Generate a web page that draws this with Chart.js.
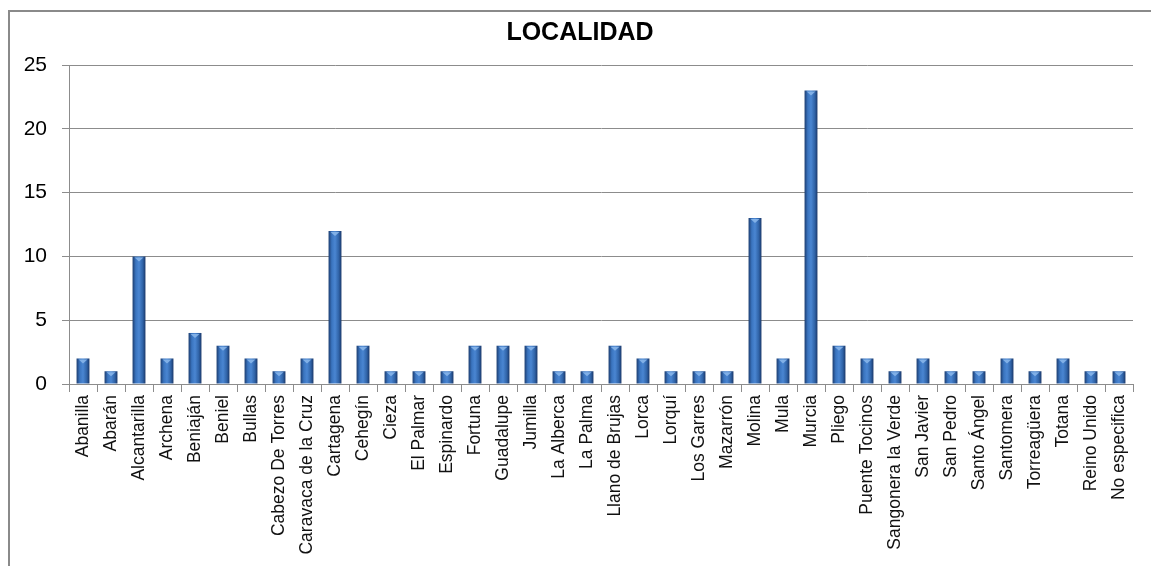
<!DOCTYPE html>
<html>
<head>
<meta charset="utf-8">
<script src="https://cdn.jsdelivr.net/npm/chart.js@4/dist/chart.umd.min.js"></script>
<style>
    html, body { margin: 0; padding: 0; background: #fff; overflow: hidden; }
    #wrap { position: absolute; left: 0; top: 0; width: 1160px; height: 566px; }
    #frame { position: absolute; left: 8px; top: 10px; width: 1200px; height: 600px; border: 2px solid #8a8a8a; pointer-events: none; }
</style>
</head>
<body>
<div id="wrap"><canvas id="chart" width="1160" height="566"></canvas></div>
<div id="frame"></div>
<script>
const localidades = ['Abanilla', 'Abarán', 'Alcantarilla', 'Archena', 'Beniaján', 'Beniel', 'Bullas',
    'Cabezo De Torres', 'Caravaca de la Cruz', 'Cartagena', 'Cehegín', 'Cieza', 'El Palmar', 'Espinardo',
    'Fortuna', 'Guadalupe', 'Jumilla', 'La Alberca', 'La Palma', 'Llano de Brujas', 'Lorca', 'Lorquí',
    'Los Garres', 'Mazarrón', 'Molina', 'Mula', 'Murcia', 'Pliego', 'Puente Tocinos', 'Sangonera la Verde',
    'San Javier', 'San Pedro', 'Santo Ángel', 'Santomera', 'Torreagüera', 'Totana', 'Reino Unido', 'No especifica'];
const cantidades = [2, 1, 10, 2, 4, 3, 2, 1, 2, 12, 3, 1, 1, 1, 3, 3, 3, 1, 1, 3, 2, 1, 1, 1, 13, 2, 23, 3, 2, 1, 2, 1, 1, 2, 1, 2, 1, 1];
const yTicks = [0, 5, 10, 15, 20, 25];

const BAR_PCT = 0.46;
const gridGray = '#8c8c8c';

// horizontal gradient per bar, built from the x scale
function barFill(context) {
    const chart = context.chart;
    const xs = chart.scales.x;
    if (!chart.chartArea || !xs) return '#2f64a8';
    const cx = xs.getPixelForValue(context.dataIndex);
    const half = (xs.width / localidades.length) * BAR_PCT / 2;
    const g = chart.ctx.createLinearGradient(cx - half, 0, cx + half, 0);
    g.addColorStop(0, '#1c3d70');
    g.addColorStop(0.25, '#3a74bf');
    g.addColorStop(0.5, '#4a86d2');
    g.addColorStop(0.8, '#2f62a6');
    g.addColorStop(1, '#1a3768');
    return g;
}

// small lighter bevel at the top of every bar
const barCaps = {
    id: 'barCaps',
    afterDatasetsDraw(chart) {
        const ctx = chart.ctx;
        chart.getDatasetMeta(0).data.forEach(bar => {
            const half = bar.width / 2;
            ctx.save();
            ctx.fillStyle = 'rgba(140,185,235,0.85)';
            ctx.beginPath();
            ctx.moveTo(bar.x - half + 2, bar.y + 1);
            ctx.lineTo(bar.x + half - 2, bar.y + 1);
            ctx.lineTo(bar.x, bar.y + 5);
            ctx.closePath();
            ctx.fill();
            ctx.restore();
        });
    }
};

new Chart(document.getElementById('chart').getContext('2d'), {
    type: 'bar',
    data: {
        labels: localidades,
        datasets: [{
            data: cantidades,
            backgroundColor: barFill,
            borderWidth: 0,
            barPercentage: BAR_PCT,
            categoryPercentage: 1
        }]
    },
    plugins: [barCaps],
    options: {
        responsive: false,
        animation: false,
        layout: { padding: 0 },
        plugins: {
            legend: { display: false },
            tooltip: { enabled: false },
            title: {
                display: true,
                text: 'LOCALIDAD',
                color: '#000',
                font: { family: "'Liberation Sans', Arial, sans-serif", size: 25, weight: 'bold', lineHeight: 1.2 },
                padding: { top: 18, bottom: 17 }
            }
        },
        scales: {
            x: {
                offset: true,
                grid: { display: true, drawOnChartArea: false, offset: true, color: gridGray, tickLength: 8 },
                border: { color: gridGray, width: 1 },
                ticks: {
                    autoSkip: false,
                    minRotation: 90,
                    maxRotation: 90,
                    padding: 3,
                    color: '#111',
                    font: { family: "'Liberation Sans', Arial, sans-serif", size: 17.5 }
                },
                afterFit(scale) {
                    scale.height = 182;
                    scale.paddingRight = 27; // keeps the plot short of the frame's right side
                }
            },
            y: {
                min: 0,
                max: 25,
                afterBuildTicks(scale) { scale.ticks = yTicks.map(v => ({ value: v })); },
                grid: { color: gridGray, tickLength: 7 },
                border: { color: gridGray, width: 1 },
                ticks: {
                    padding: 15,
                    color: '#000',
                    font: { family: "'Liberation Sans', Arial, sans-serif", size: 21 }
                },
                afterFit(scale) { scale.width = 69; }
            }
        }
    }
});
</script>
</body>
</html>
